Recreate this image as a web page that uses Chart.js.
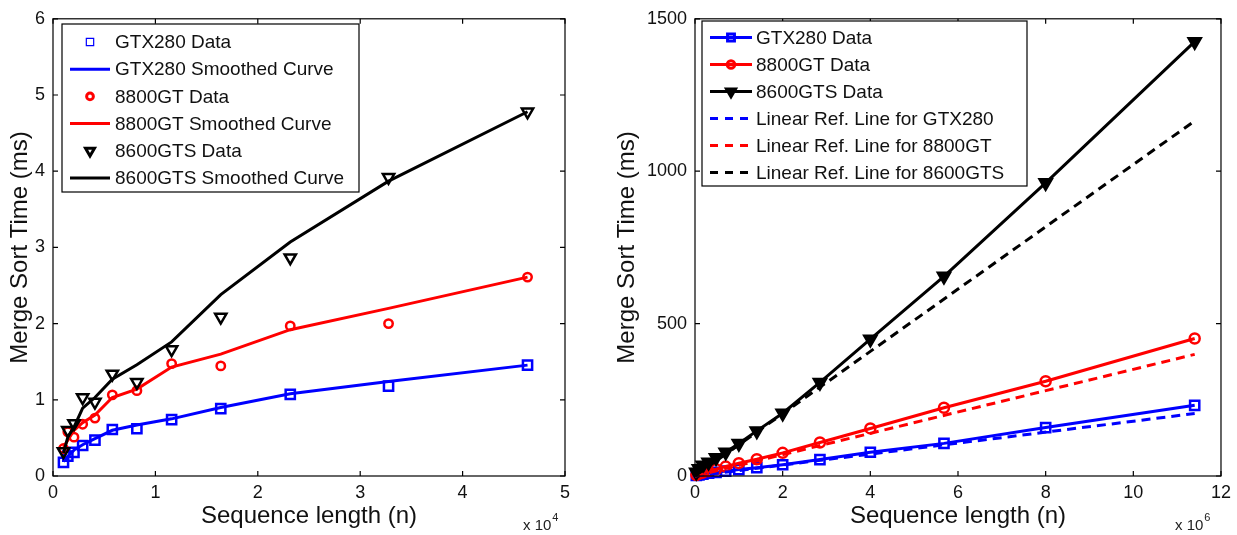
<!DOCTYPE html>
<html>
<head>
<meta charset="utf-8">
<script src="https://cdn.jsdelivr.net/npm/chart.js@4/dist/chart.umd.min.js"></script>
<style>
  body { margin: 0; background: #fff; }
  canvas { position: absolute; top: 0; }
  #leftChart { left: 0; }
  #rightChart { left: 605px; }
</style>
</head>
<body>
<canvas id="leftChart" width="600" height="535"></canvas>
<canvas id="rightChart" width="632" height="535"></canvas>
<script>
// ---- left plot: small sequences (n) ----
const leftN = [1024, 1448, 2048, 2896, 4096, 5793, 8192, 11585, 16384, 23170, 32768, 46341];
const gtx280Data   = [0.18, 0.26, 0.31, 0.40, 0.47, 0.61, 0.62, 0.74, 0.885, 1.07, 1.18, 1.455];
const gtx280Smooth = [0.19, 0.26, 0.34, 0.41, 0.49, 0.60, 0.67, 0.75, 0.90, 1.08, 1.24, 1.455];
const gt8800Data   = [0.36, 0.58, 0.51, 0.68, 0.76, 1.065, 1.12, 1.475, 1.445, 1.97, 2.0, 2.61];
const gt8800Smooth = [0.38, 0.47, 0.60, 0.70, 0.80, 1.03, 1.14, 1.43, 1.60, 1.92, 2.2, 2.61];
const gts8600Data  = [0.32, 0.60, 0.69, 1.03, 0.97, 1.34, 1.23, 1.66, 2.085, 2.865, 3.92, 4.78];
const gts8600Smooth = [0.30, 0.51, 0.64, 0.89, 1.03, 1.27, 1.46, 1.76, 2.38, 3.07, 3.87, 4.78];
const leftXTicks = [0, 1, 2, 3, 4, 5];      // x 10^4
const leftYTicks = [0, 1, 2, 3, 4, 5, 6];

// ---- right plot: large sequences (millions) ----
const rightN = [0.03, 0.09, 0.18, 0.31, 0.48, 0.7, 1.0, 1.41, 2.0, 2.85, 4.0, 5.68, 8.0, 11.4];
const gtx280Big  = [2, 4, 6, 9, 12, 16, 21, 27, 37, 54, 78, 107, 159, 232];
const gt8800Big  = [3, 7, 11, 16, 22, 31, 42, 55, 76, 110, 156, 224, 311, 451];
const gts8600Big = [12, 24, 35, 45, 60, 78, 107, 148, 206, 307, 449, 655, 962, 1425];
const refN = [0, 11.4];
const gtx280Ref  = [0, 205];
const gt8800Ref  = [0, 399];
const gts8600Ref = [0, 1165];
const rightXTicks = [0, 2, 4, 6, 8, 10, 12]; // x 10^6
const rightYTicks = [0, 500, 1000, 1500];

const FONT = '"Liberation Sans", Arial, Helvetica, sans-serif';
const BLUE = '#0000ff', RED = '#ff0000', BLACK = '#000000';

function pts(xs, ys) {
  return xs.map((x, i) => ({ x: x, y: ys[i] }));
}

// axis box with inward ticks, like matlab
const frameTicks = {
  id: 'frameTicks',
  afterDatasetsDraw(chart) {
    const ctx = chart.ctx, a = chart.chartArea;
    const xs = chart.scales.x, ys = chart.scales.y;
    ctx.save();
    ctx.strokeStyle = '#000';
    ctx.lineWidth = 1.2;
    ctx.setLineDash([]);
    ctx.strokeRect(a.left, a.top, a.right - a.left, a.bottom - a.top);
    ctx.beginPath();
    xs.ticks.forEach(t => {
      const px = xs.getPixelForValue(t.value);
      ctx.moveTo(px, a.bottom); ctx.lineTo(px, a.bottom - 5);
      ctx.moveTo(px, a.top); ctx.lineTo(px, a.top + 5);
    });
    ys.ticks.forEach(t => {
      const py = ys.getPixelForValue(t.value);
      ctx.moveTo(a.left, py); ctx.lineTo(a.left + 5, py);
      ctx.moveTo(a.right, py); ctx.lineTo(a.right - 5, py);
    });
    ctx.stroke();
    ctx.restore();
  }
};

// exponent text under the x axis ("x 10^4")
const expLabel = {
  id: 'expLabel',
  afterDraw(chart, args, opts) {
    const ctx = chart.ctx;
    ctx.save();
    ctx.fillStyle = '#222';
    ctx.textBaseline = 'alphabetic';
    ctx.font = '15px ' + FONT;
    ctx.fillText('x 10', opts.x, opts.y);
    const w = ctx.measureText('x 10').width;
    ctx.font = '11px ' + FONT;
    ctx.fillText(opts.power, opts.x + w + 1, opts.y - 9);
    ctx.restore();
  }
};

// boxed legend drawn inside the plot
const boxLegend = {
  id: 'boxLegend',
  afterDraw(chart, args, o) {
    const ctx = chart.ctx;
    ctx.save();
    ctx.fillStyle = '#fff';
    ctx.fillRect(o.x, o.y, o.w, o.h);
    ctx.strokeStyle = '#000';
    ctx.lineWidth = 1.2;
    ctx.strokeRect(o.x, o.y, o.w, o.h);
    chart.data.datasets.forEach((ds, i) => {
      const cy = o.y + o.first + i * o.step;
      const x0 = o.x + o.lineFrom, x1 = o.x + o.lineTo;
      if (ds.showLine) {
        ctx.strokeStyle = ds.borderColor;
        ctx.lineWidth = ds.borderWidth;
        ctx.setLineDash(ds.borderDash ? [8, 7] : []);
        ctx.beginPath();
        ctx.moveTo(x0, cy);
        ctx.lineTo(x1, cy);
        ctx.stroke();
      }
      if (ds.pointRadius > 0) {
        ctx.setLineDash([]);
        ctx.fillStyle = ds.pointBackgroundColor;
        ctx.strokeStyle = ds.pointBorderColor;
        Chart.helpers.drawPoint(ctx, {
          pointStyle: ds.pointStyle,
          rotation: ds.pointRotation || 0,
          radius: ds.legendRadius || ds.pointRadius,
          borderWidth: ds.pointBorderWidth
        }, (x0 + x1) / 2, cy);
      }
      ctx.fillStyle = '#111';
      ctx.font = '19px ' + FONT;
      ctx.textBaseline = 'middle';
      ctx.fillText(ds.label, o.x + o.textX, cy + 1);
    });
    ctx.restore();
  }
};

function markers(label, xs, ys, color, style, radius, rot, filled, order) {
  return {
    label: label,
    data: pts(xs, ys),
    showLine: false,
    pointStyle: style,
    pointRotation: rot,
    pointRadius: radius,
    legendRadius: radius * 0.8,
    pointBorderWidth: 2.5,
    pointBorderColor: color,
    pointBackgroundColor: filled ? color : 'rgba(0,0,0,0)',
    order: order,
    clip: false
  };
}

function curve(label, xs, ys, color, dashed, order) {
  return {
    label: label,
    data: pts(xs, ys),
    showLine: true,
    borderColor: color,
    borderWidth: 3,
    borderDash: dashed ? [9, 6] : undefined,
    pointRadius: 0,
    order: order,
    clip: false
  };
}

function lineWithMarkers(label, xs, ys, color, style, radius, rot, filled, order) {
  const d = markers(label, xs, ys, color, style, radius, rot, filled, order);
  d.showLine = true;
  d.borderColor = color;
  d.borderWidth = 3;
  d.legendRadius = radius * 0.75;
  return d;
}

function axes(xTicks, yTicks, yWidth, titleY) {
  return {
    x: {
      type: 'linear',
      min: xTicks[0], max: xTicks[xTicks.length - 1],
      afterBuildTicks: s => { s.ticks = xTicks.map(v => ({ value: v })); },
      grid: { display: false, drawTicks: false },
      border: { display: false },
      ticks: { color: '#111', padding: 6, font: { size: 18, family: FONT }, callback: v => String(v), maxRotation: 0 },
      title: { display: true, text: 'Sequence length (n)', color: '#111',
               font: { size: 24, family: FONT }, padding: { top: 0, bottom: 4 } },
      afterFit: s => { s.height = 59; }
    },
    y: {
      type: 'linear',
      min: yTicks[0], max: yTicks[yTicks.length - 1],
      afterBuildTicks: s => { s.ticks = yTicks.map(v => ({ value: v })); },
      grid: { display: false, drawTicks: false },
      border: { display: false },
      ticks: { color: '#111', padding: 8, font: { size: 18, family: FONT }, callback: v => String(v) },
      title: { display: true, text: 'Merge Sort Time (ms)', color: '#111',
               font: { size: 24, family: FONT }, padding: { top: titleY, bottom: 0 } },
      afterFit: s => { s.width = yWidth; }
    }
  };
}

new Chart(document.getElementById('leftChart'), {
  type: 'scatter',
  data: {
    datasets: [
      markers('GTX280 Data', leftN.map(n => n / 1e4), gtx280Data, BLUE, 'rect', 6.5, 0, false, 6),
      curve('GTX280 Smoothed Curve', leftN.map(n => n / 1e4), gtx280Smooth, BLUE, false, 5),
      markers('8800GT Data', leftN.map(n => n / 1e4), gt8800Data, RED, 'circle', 4.2, 0, false, 4),
      curve('8800GT Smoothed Curve', leftN.map(n => n / 1e4), gt8800Smooth, RED, false, 3),
      markers('8600GTS Data', leftN.map(n => n / 1e4), gts8600Data, BLACK, 'triangle', 6.5, 180, false, 2),
      curve('8600GTS Smoothed Curve', leftN.map(n => n / 1e4), gts8600Smooth, BLACK, false, 1)
    ]
  },
  options: {
    responsive: false,
    animation: false,
    layout: { padding: { top: 14, right: 35, left: 0, bottom: 0 } },
    scales: axes(leftXTicks, leftYTicks, 53, 6),
    plugins: {
      legend: { display: false },
      tooltip: { enabled: false },
      boxLegend: { x: 62, y: 24, w: 297, h: 168, first: 18, step: 27.2, lineFrom: 8, lineTo: 48, textX: 53 },
      expLabel: { x: 523, y: 530, power: '4' }
    }
  },
  plugins: [frameTicks, boxLegend, expLabel]
});

new Chart(document.getElementById('rightChart'), {
  type: 'scatter',
  data: {
    datasets: [
      lineWithMarkers('GTX280 Data', rightN, gtx280Big, BLUE, 'rect', 6.5, 0, false, 6),
      lineWithMarkers('8800GT Data', rightN, gt8800Big, RED, 'circle', 5, 0, false, 5),
      lineWithMarkers('8600GTS Data', rightN, gts8600Big, BLACK, 'triangle', 7, 180, true, 4),
      curve('Linear Ref. Line for GTX280', refN, gtx280Ref, BLUE, true, 3),
      curve('Linear Ref. Line for 8800GT', refN, gt8800Ref, RED, true, 2),
      curve('Linear Ref. Line for 8600GTS', refN, gts8600Ref, BLACK, true, 1)
    ]
  },
  options: {
    responsive: false,
    animation: false,
    layout: { padding: { top: 14, right: 13, left: 0, bottom: 0 } },
    scales: axes(rightXTicks, rightYTicks, 90, 8),
    plugins: {
      legend: { display: false },
      tooltip: { enabled: false },
      boxLegend: { x: 97, y: 21, w: 325, h: 165, first: 16.5, step: 27, lineFrom: 8, lineTo: 50, textX: 54 },
      expLabel: { x: 570, y: 530, power: '6' }
    }
  },
  plugins: [frameTicks, boxLegend, expLabel]
});
</script>
</body>
</html>
